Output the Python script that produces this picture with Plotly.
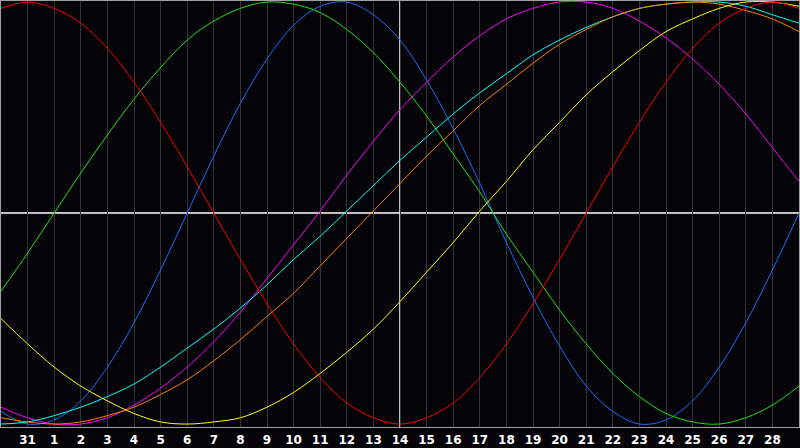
import plotly.graph_objects as go

# day labels shown under the gridlines (Jan 31 .. Feb 28)
day_labels = ["31"] + [str(d) for d in range(1, 29)]
today_label = "14"

# one value per day slot, slot 0 = left edge, slot 30 = right edge
slots = list(range(31))

physical = [-0.94, -1.00, -0.98, -0.89, -0.73, -0.52, -0.27, 0.00, 0.27, 0.52,
            0.73, 0.89, 0.98, 1.00, 0.94, 0.82, 0.63, 0.40, 0.14, -0.14,
            -0.40, -0.63, -0.82, -0.94, -1.00, -0.98, -0.89, -0.73, -0.52, -0.27, 0.00]
emotional = [0.97, 1.00, 0.97, 0.90, 0.78, 0.62, 0.43, 0.22, 0.00, -0.22,
             -0.43, -0.62, -0.78, -0.90, -0.97, -1.00, -0.97, -0.90, -0.78, -0.62,
             -0.43, -0.22, 0.00, 0.22, 0.43, 0.62, 0.78, 0.90, 0.97, 1.00, 0.97]
intellectual = [-0.37, -0.19, 0.00, 0.19, 0.37, 0.54, 0.69, 0.82, 0.91, 0.97,
                1.00, 0.99, 0.95, 0.87, 0.76, 0.62, 0.46, 0.28, 0.10, -0.10,
                -0.28, -0.46, -0.62, -0.76, -0.87, -0.95, -0.99, -1.00, -0.97, -0.91, -0.82]
intuitive = [-0.92, -0.97, -1.00, -1.00, -0.97, -0.91, -0.83, -0.73, -0.61, -0.47,
             -0.31, -0.15, 0.01, 0.18, 0.34, 0.49, 0.62, 0.74, 0.84, 0.92,
             0.97, 1.00, 1.00, 0.97, 0.91, 0.83, 0.73, 0.61, 0.47, 0.31, 0.15]
aesthetic = [-0.50, -0.62, -0.73, -0.82, -0.89, -0.95, -0.99, -1.00, -0.99, -0.97,
             -0.92, -0.85, -0.76, -0.66, -0.55, -0.42, -0.28, -0.14, 0.01, 0.15,
             0.30, 0.43, 0.56, 0.67, 0.77, 0.86, 0.92, 0.97, 1.00, 1.00, 0.98]
awareness = [-0.97, -0.99, -1.00, -0.99, -0.96, -0.92, -0.86, -0.79, -0.70, -0.60,
             -0.49, -0.38, -0.25, -0.12, 0.01, 0.14, 0.27, 0.39, 0.51, 0.61,
             0.71, 0.80, 0.87, 0.93, 0.97, 0.99, 1.00, 0.99, 0.96, 0.92, 0.86]
spiritual = [-1.00, -0.99, -0.96, -0.92, -0.87, -0.81, -0.73, -0.64, -0.55, -0.45,
             -0.34, -0.22, -0.11, 0.01, 0.13, 0.25, 0.36, 0.47, 0.57, 0.66,
             0.75, 0.82, 0.88, 0.93, 0.97, 0.99, 1.00, 1.00, 0.98, 0.94, 0.90]

series = [
    ("Physical", physical, "#1a6cff"),
    ("Intellectual", intellectual, "#22e01a"),
    ("Intuitive", intuitive, "#ff00ff"),
    ("Spiritual", spiritual, "#00ffff"),
    ("Awareness", awareness, "#ff7f00"),
    ("Aesthetic", aesthetic, "#ffff00"),
    ("Emotional", emotional, "#ff0000"),
]

fig = go.Figure()

for name, vals, color in series:
    fig.add_trace(go.Scatter(
        x=slots,
        y=vals,
        mode="lines",
        name=name,
        line=dict(color=color, width=1, shape="spline", smoothing=1),
        showlegend=False,
        hoverinfo="skip",
    ))

today_slot = day_labels.index(today_label) + 1

# white cross: today + zero line
fig.add_shape(type="line", xref="x", yref="paper", x0=today_slot, x1=today_slot,
              y0=0, y1=1, line=dict(color="white", width=1.5), layer="between")
fig.add_shape(type="line", xref="paper", yref="y", x0=0, x1=1, y0=0, y1=0,
              line=dict(color="white", width=1.5), layer="between")

fig.update_layout(
    width=800,
    height=448,
    margin=dict(l=1, r=1, t=1, b=21),
    paper_bgcolor="#040408",
    plot_bgcolor="#040408",
    showlegend=False,
    xaxis=dict(
        range=[0, 30],
        tickmode="array",
        tickvals=list(range(1, 30)),
        ticktext=day_labels,
        showgrid=True,
        gridcolor="#333333",
        gridwidth=1,
        zeroline=False,
        ticks="",
        ticklabelstandoff=2,
        showline=True,
        mirror=True,
        linecolor="#a0a0a0",
        linewidth=1,
        tickfont=dict(family="DejaVu Sans", size=12, color="white", weight="bold"),
        fixedrange=True,
    ),
    yaxis=dict(
        range=[-1.014, 1.005],
        showgrid=False,
        zeroline=False,
        showticklabels=False,
        ticks="",
        showline=True,
        mirror=True,
        linecolor="#a0a0a0",
        linewidth=1,
        fixedrange=True,
    ),
)

# page margin off so the chart sits at the window corner
fig.write_html(
    "out.html",
    config={"displayModeBar": False},
    post_script="document.body.style.margin='0';document.body.style.overflow='hidden';"
                "document.body.style.background='#040408';",
)
